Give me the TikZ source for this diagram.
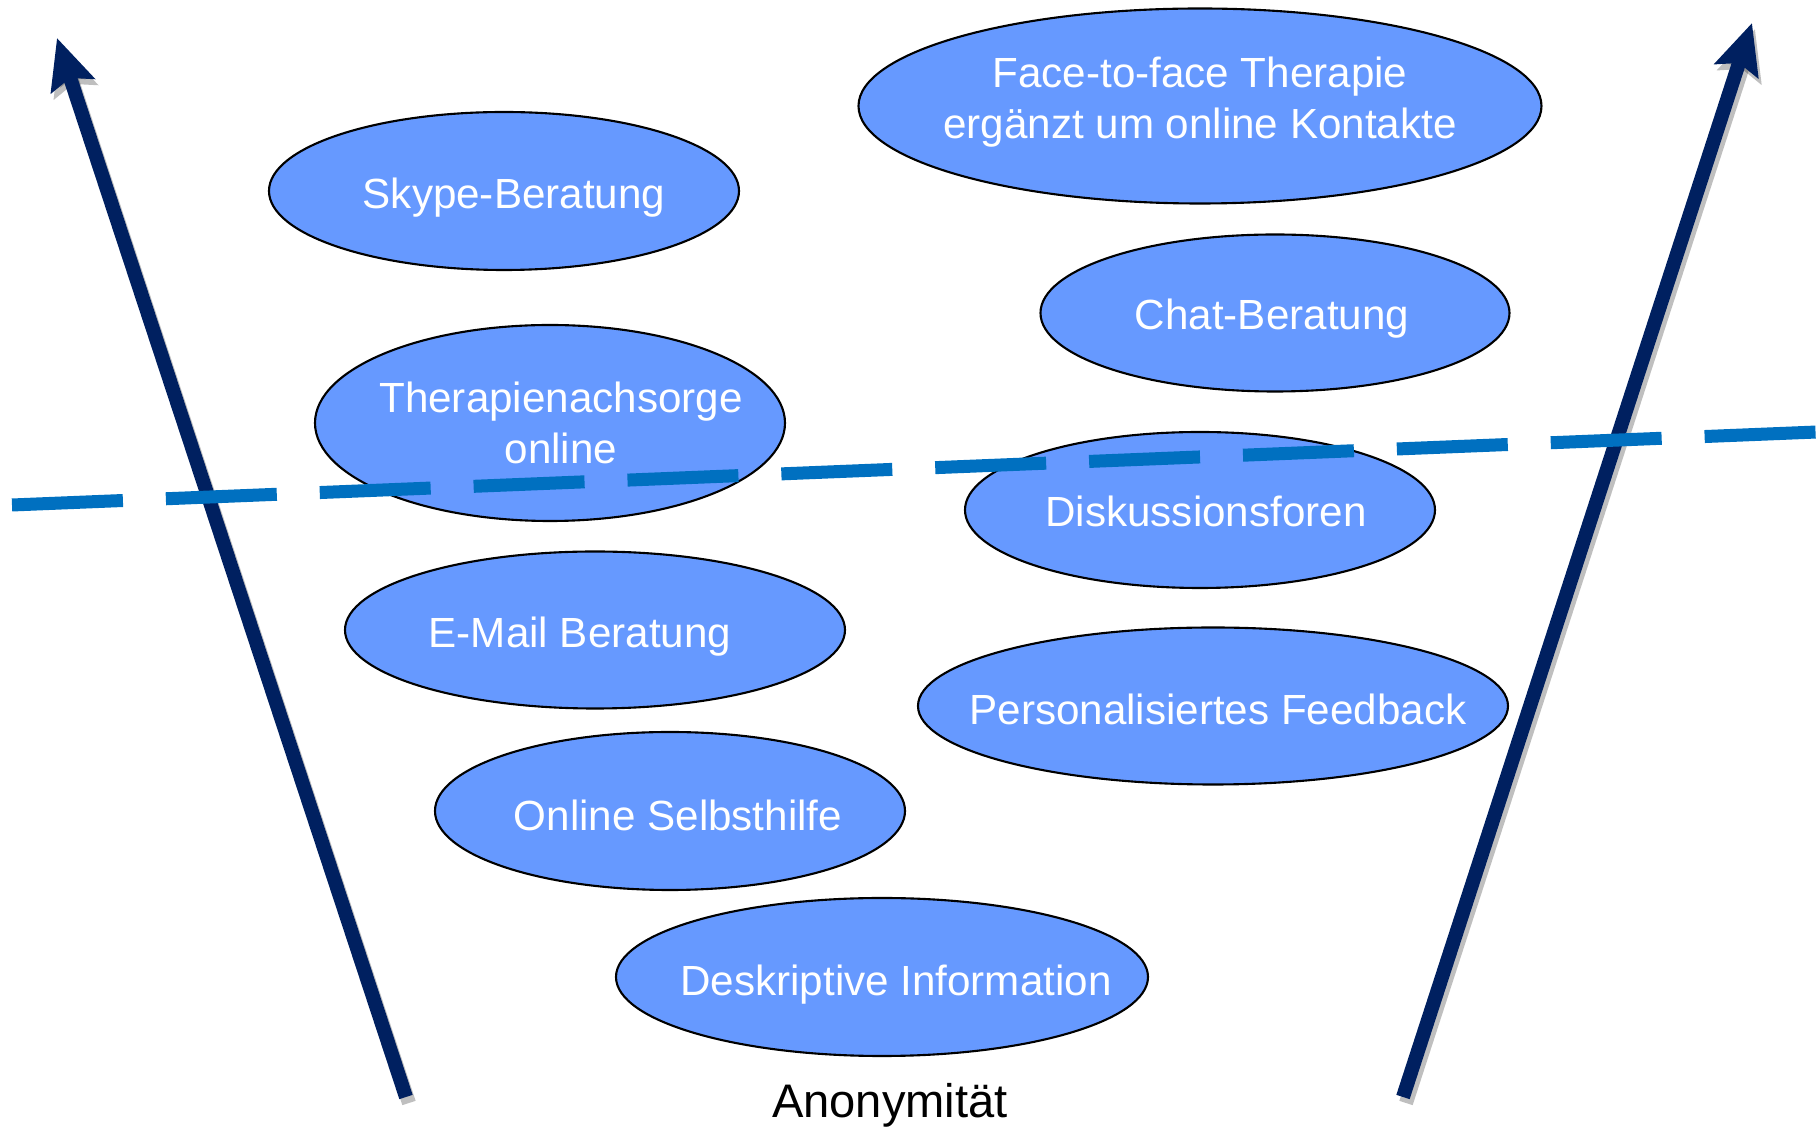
\documentclass[tikz,border=0pt]{standalone}
\usepackage{fontspec}
\setmainfont{Liberation Sans}
\usepackage{tikz}
\usetikzlibrary{shapes.geometric, arrows.meta, positioning}
\definecolor{mynavy}{RGB}{0,32,96}
\definecolor{mybubble}{RGB}{102,153,255}
\definecolor{myblue}{RGB}{0,112,192}
\tikzset{
  bubble/.style={ellipse, draw=black, fill=mybubble, inner sep=0pt,
    line width=0.6pt},
  bubtext/.style={text=white, font=\fontsize{12}{14.5}\selectfont,
    align=center, inner sep=0pt},
  axisarrow/.style={-{Stealth[length=0.5cm, width=0.45cm, inset=0.08cm]},
    line width=0.14cm, color=mynavy},
  axisshadow/.style={axisarrow, color=black, opacity=0.25},
  cutline/.style={line width=0.13cm, color=myblue,
    dash pattern=on 1.11cm off 0.43cm}
}

\begin{document}
\begin{tikzpicture}
  \useasboundingbox (0,0) rectangle (18.2,11.31);
  % axes
  \coordinate (ltail) at (4.06,0.34);
  \coordinate (ltip) at (0.57,10.93);
  \coordinate (rtail) at (14.03,0.34);
  \coordinate (rtip) at (17.52,11.08);
  \draw[axisshadow] ([shift={(0.03,-0.06)}]ltail) -- ([shift={(0.03,-0.06)}]ltip);
  \draw[axisshadow] ([shift={(0.03,-0.06)}]rtail) -- ([shift={(0.03,-0.06)}]rtip);
  \draw[axisarrow] (ltail) -- (ltip);
  \draw[axisarrow] (rtail) -- (rtip);
  % offers
  \node[bubble, minimum width=6.83cm, minimum height=1.95cm,
    label={[bubtext, yshift=0.04cm]center:{Face-to-face Therapie\\erg\"anzt um online Kontakte}}]
    (f2f) at (12.00,10.25) {};
  \node[bubble, minimum width=4.70cm, minimum height=1.58cm,
    label={[bubtext, xshift=0.1cm, yshift=-0.07cm]center:Skype-Beratung}]
    (skype) at (5.04,9.40) {};
  \node[bubble, minimum width=4.69cm, minimum height=1.57cm,
    label={[bubtext, xshift=-0.03cm, yshift=-0.06cm]center:Chat-Beratung}]
    (chat) at (12.75,8.18) {};
  \node[bubble, minimum width=4.70cm, minimum height=1.96cm,
    label={[bubtext, xshift=0.11cm]center:{Therapienachsorge\\online}}]
    (nachsorge) at (5.50,7.08) {};
  \node[bubble, minimum width=4.70cm, minimum height=1.56cm,
    label={[bubtext, xshift=0.06cm, yshift=-0.01cm]center:Diskussionsforen}]
    (foren) at (12.00,6.21) {};
  \node[bubble, minimum width=5.00cm, minimum height=1.57cm,
    label={[bubtext, xshift=-0.15cm, yshift=-0.07cm]center:E-Mail Beratung}]
    (mail) at (5.95,5.01) {};
  \node[bubble, minimum width=5.90cm, minimum height=1.57cm,
    label={[bubtext, xshift=0.05cm, yshift=-0.03cm]center:Personalisiertes Feedback}]
    (feedback) at (12.13,4.25) {};
  \node[bubble, minimum width=4.70cm, minimum height=1.58cm,
    label={[bubtext, xshift=0.08cm, yshift=-0.04cm]center:Online Selbsthilfe}]
    (selbsthilfe) at (6.70,3.20) {};
  \node[bubble, minimum width=5.32cm, minimum height=1.58cm,
    label={[bubtext, xshift=0.14cm, yshift=-0.08cm]center:Deskriptive Information}]
    (info) at (8.82,1.54) {};
  % threshold
  \coordinate (cutl) at (0.12,6.26);
  \coordinate (cutr) at (18.17,6.99);
  \draw[cutline] (cutl) -- (cutr);
  \node[inner sep=0pt, font=\fontsize{13.4}{16}\selectfont] (anon) at (8.90,0.26) {Anonymit\"at};
\end{tikzpicture}
\end{document}
